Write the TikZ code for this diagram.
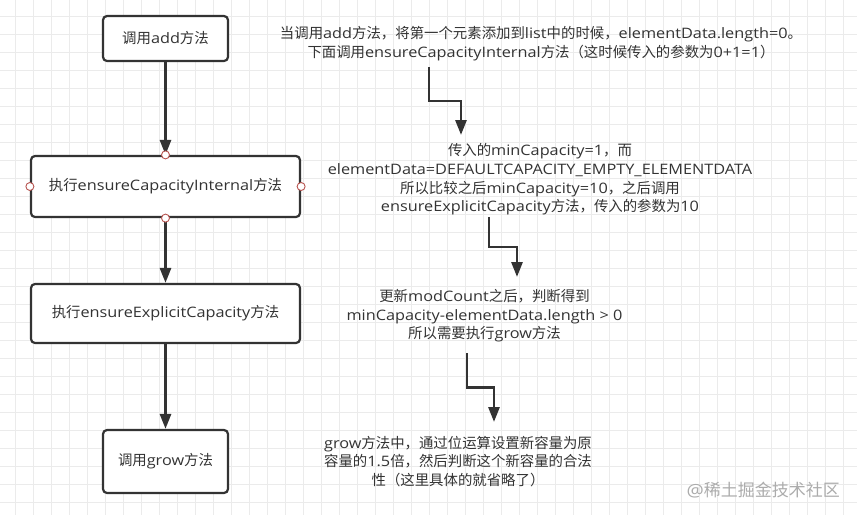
\documentclass[tikz,border=0pt]{standalone}
\usepackage{fontspec}
\setmainfont[FakeStretch=1.13]{Open Sans}
\newfontfamily\cjkfont{Noto Sans CJK SC}
% switch to the CJK family for Chinese runs
\XeTeXinterchartokenstate=1
\newXeTeXintercharclass\cjkclass
\newcount\cjkcode
\def\setcjkrange#1#2{\cjkcode=#1 \loop \XeTeXcharclass\cjkcode=\cjkclass \ifnum\cjkcode<#2 \advance\cjkcode by 1 \repeat}
\setcjkrange{"4E00}{"9FFF}
\setcjkrange{"3000}{"303F}
\setcjkrange{"FF00}{"FFEF}
\XeTeXinterchartoks 0 \cjkclass = {\cjkfont}
\XeTeXinterchartoks 4095 \cjkclass = {\cjkfont}
\XeTeXinterchartoks \cjkclass 0 = {\rmfamily}
\XeTeXinterchartoks 4095 0 = {\rmfamily}
\usetikzlibrary{arrows.meta}
\usetikzlibrary{calc}
\colorlet{gridlines}{gray!16}
\definecolor{ink}{HTML}{333333}
\definecolor{pinred}{HTML}{B85450}
\colorlet{wmgray}{gray!65}
\tikzset{
    box/.style={draw=ink, line width=2.2pt, rounded corners=4pt, fill=white, text=ink, inner sep=0pt, font=\fontsize{14.4}{17}\selectfont},
    note/.style={text=ink, align=center, inner sep=0pt, font=\fontsize{14.4}{18.6}\selectfont},
    flow/.style={draw=ink, line width=2.8pt, -{Triangle[length=15pt,width=11pt]}},
    pin/.style={circle, draw=pinred, fill=white, line width=0.9pt, inner sep=0pt, minimum size=8pt}
}

\begin{document}
\begin{tikzpicture}[x=1pt, y=-1pt]
        \useasboundingbox[fill=white] (0,0) rectangle (857,515);
        % background grid
        \foreach \x in {15,33,...,855}
        {
            \draw[gridlines, line width=0.6pt] (\x,0) -- (\x,515);
        }
        \foreach \y in {16.5,34.5,...,515}
        {
            \draw[gridlines, line width=0.6pt] (0,\y) -- (857,\y);
        }
        % steps
        \node[box, minimum width=125, minimum height=45] (add) at (165.5,38.5) {调用add方法};
        \node[box, minimum width=269, minimum height=61] (internal) at (165.5,186.5) {执行ensureCapacityInternal方法};
        \node[box, minimum width=269, minimum height=59] (explicit) at (165.5,313.5) {执行ensureExplicitCapacity方法};
        \node[box, minimum width=125, minimum height=63] (grow) at (165.5,461.5) {调用grow方法};
        \draw[flow] (add) -- (internal);
        \draw[flow] (internal) -- (explicit);
        \draw[flow] (explicit) -- (grow);
        \node[pin] (pinnorth) at (internal.north) {};
        \node[pin] (pinsouth) at (internal.south) {};
        \node[pin] (pineast) at (internal.east) {};
        \node[pin] (pinwest) at (internal.west) {};
        % notes
        \node[note] (noteadd) at (541,43.5) {当调用add方法，将第一个元素添加到list中的时候，elementData.length=0。\\下面调用ensureCapacityInternal方法（这时候传入的参数为0+1=1）};
        \node[note] (noteinternal) at (540,179.5) {传入的minCapacity=1，而\\elementData=DEFAULTCAPACITY\_EMPTY\_ELEMENTDATA\\所以比较之后minCapacity=10，之后调用\\ensureExplicitCapacity方法，传入的参数为10};
        \node[note] (noteexplicit) at (484.5,316) {更新modCount之后，判断得到\\minCapacity-elementData.length > 0\\所以需要执行grow方法};
        \node[note] (notegrow) at (458,461.5) {grow方法中，通过位运算设置新容量为原\\容量的1.5倍，然后判断这个新容量的合法\\性（这里具体的就省略了）};
        % elbow links between notes
        \coordinate (linkaddstart) at (429,67);
        \coordinate (linkaddend) at (461,135);
        \coordinate (linkintstart) at (489,217);
        \coordinate (linkintend) at (517,277);
        \coordinate (linkexpstart) at (467,353);
        \coordinate (linkexpend) at (494,422);
        \draw[flow] (linkaddstart) |- ($(linkaddstart)!0.5!(linkaddend)$) -| (linkaddend);
        \draw[flow] (linkintstart) |- ($(linkintstart)!0.5!(linkintend)$) -| (linkintend);
        \draw[flow] (linkexpstart) |- ($(linkexpstart)!0.5!(linkexpend)$) -| (linkexpend);
        % watermark
        \node[text=wmgray, anchor=east, inner sep=0pt, font=\fontsize{17}{17}\selectfont] (watermark) at (840,490) {@稀土掘金技术社区};
    \end{tikzpicture}
\end{document}
